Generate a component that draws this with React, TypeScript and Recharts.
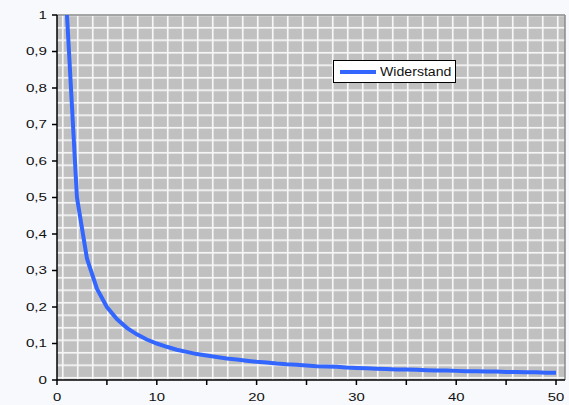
import { CartesianGrid, Legend, Line, LineChart, ReferenceLine, XAxis, YAxis } from "recharts"

const xValues = [
    1, 2, 3, 4, 5, 6, 7, 8, 9, 10,
    11, 12, 13, 14, 15, 16, 17, 18, 19, 20,
    21, 22, 23, 24, 25, 26, 27, 28, 29, 30,
    31, 32, 33, 34, 35, 36, 37, 38, 39, 40,
    41, 42, 43, 44, 45, 46, 47, 48, 49, 50,
]

const widerstand = [
    1, 0.5, 0.333, 0.25, 0.2, 0.167, 0.143, 0.125, 0.111, 0.1,
    0.091, 0.083, 0.077, 0.071, 0.067, 0.063, 0.059, 0.056, 0.053, 0.05,
    0.048, 0.045, 0.043, 0.042, 0.04, 0.038, 0.037, 0.036, 0.034, 0.033,
    0.032, 0.031, 0.03, 0.029, 0.029, 0.028, 0.027, 0.026, 0.026, 0.025,
    0.024, 0.024, 0.023, 0.023, 0.022, 0.022, 0.021, 0.021, 0.02, 0.02,
]

const xTicks = [0, 5, 10, 15, 20, 25, 30, 35, 40, 45, 50]
const xLabels = [0, 10, 20, 30, 40, 50]
const yTicks = [0, 0.1, 0.2, 0.3, 0.4, 0.5, 0.6, 0.7, 0.8, 0.9, 1]

const data = xValues.map((x, i) => ({ x, widerstand: widerstand[i] }))

const font = "'Liberation Sans', Arial, sans-serif"

function YTick(props: any) {
    const { x, y, payload } = props
    const label = String(payload.value).replace(".", ",")
    return (
        <g transform={`translate(${x},${y})`}>
            <text transform="scale(1.38,1)" textAnchor="end" dy="0.36em" fontSize={11} fontFamily={font} fill="#111">
                {label}
            </text>
        </g>
    )
}

function XTick(props: any) {
    const { x, y, payload } = props
    if (!xLabels.includes(payload.value)) return <g />
    return (
        <g transform={`translate(${x},${y})`}>
            <text transform="scale(1.35,1)" textAnchor="middle" dy="0.71em" fontSize={11} fontFamily={font} fill="#111">
                {payload.value}
            </text>
        </g>
    )
}

function LegendBox() {
    return (
        <div
            style={{
                width: 121,
                height: 21,
                background: "#fff",
                border: "1px solid #000",
                display: "flex",
                alignItems: "center",
                boxSizing: "content-box",
            }}
        >
            <div style={{ width: 36, height: 4, background: "#3366FF", marginLeft: 6 }} />
            <span
                style={{
                    display: "inline-block",
                    marginLeft: 4,
                    fontFamily: font,
                    fontSize: 12.5,
                    color: "#111",
                    transform: "scaleX(1.13)",
                    transformOrigin: "left center",
                }}
            >
                Widerstand
            </span>
        </div>
    )
}

export default function App() {
    return (
        <div style={{ position: "absolute", left: 0, top: 0, width: 569, height: 405, background: "#F8F9FD" }}>
            <LineChart width={569} height={405} data={data} margin={{ top: 15, right: 4, bottom: 0, left: 0 }}>
                <defs>
                    <pattern id="bgGrid" patternUnits="userSpaceOnUse" x={0} y={0} width={15} height={12.5}>
                        <rect x={0} y={0} width={15} height={12.5} fill="#C0C0C0" />
                        <rect x={1.9} y={0} width={1.7} height={12.5} fill="#F6F6F6" />
                        <rect x={0} y={1.9} width={15} height={1.7} fill="#F6F6F6" />
                    </pattern>
                </defs>
                <CartesianGrid horizontal={false} vertical={false} fill="url(#bgGrid)" fillOpacity={1} />
                <XAxis
                    type="number"
                    dataKey="x"
                    domain={[0, 50.9]}
                    ticks={xTicks}
                    interval={0}
                    allowDataOverflow
                    height={25}
                    tickSize={5}
                    tickMargin={8}
                    stroke="#000"
                    strokeWidth={1.5}
                    tick={XTick}
                />
                <YAxis
                    type="number"
                    domain={[0, 1]}
                    ticks={yTicks}
                    interval={0}
                    width={57}
                    tickSize={5}
                    tickMargin={5}
                    stroke="#000"
                    strokeWidth={1.5}
                    tick={YTick}
                />
                <ReferenceLine y={1} stroke="#8A8A8A" strokeWidth={1.5} />
                <ReferenceLine x={50.9} stroke="#8A8A8A" strokeWidth={1.5} />
                <Legend
                    layout="horizontal"
                    verticalAlign="middle"
                    align="center"
                    content={<LegendBox />}
                    wrapperStyle={{ position: "absolute", left: 333, top: 60, width: "auto" }}
                />
                <Line
                    type="linear"
                    dataKey="widerstand"
                    name="Widerstand"
                    stroke="#3366FF"
                    strokeWidth={4}
                    dot={false}
                    isAnimationActive={false}
                />
            </LineChart>
        </div>
    )
}
